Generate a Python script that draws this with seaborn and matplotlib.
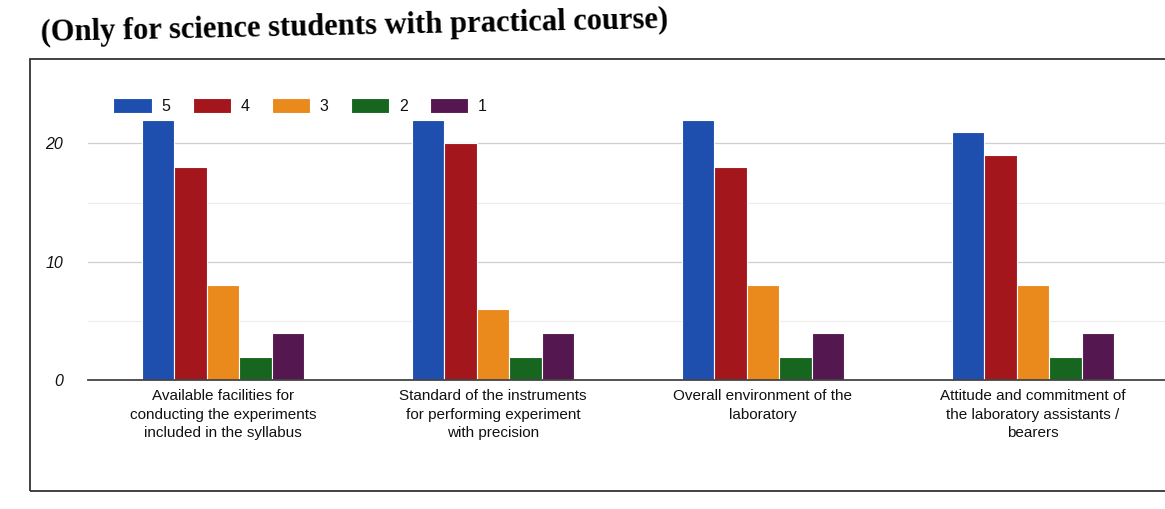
import pandas as pd
import matplotlib.pyplot as plt
import seaborn as sns
from matplotlib.patches import Rectangle

# Survey items (x categories)
categories = [
    'Available facilities for\nconducting the experiments\nincluded in the syllabus',
    'Standard of the instruments\nfor performing experiment\nwith precision',
    'Overall environment of the\nlaboratory',
    'Attitude and commitment of\nthe laboratory assistants /\nbearers',
]

# Rating levels (legend)
ratings = ['5', '4', '3', '2', '1']

# Number of responses per rating, one value per item
counts_5 = [22, 22, 22, 21]
counts_4 = [18, 20, 18, 19]
counts_3 = [8, 6, 8, 8]
counts_2 = [2, 2, 2, 2]
counts_1 = [4, 4, 4, 4]

colors = ['#1f4fae', '#a3161b', '#ea8a1c', '#17661f', '#55174f']

# Build a long table for seaborn
rows = []
for rating, vals in zip(ratings, [counts_5, counts_4, counts_3, counts_2, counts_1]):
    for cat, v in zip(categories, vals):
        rows.append({'item': cat, 'rating': rating, 'count': v})
df = pd.DataFrame(rows)

sns.set_style('white')
plt.rcParams['font.family'] = ['Liberation Sans', 'DejaVu Sans']

fig = plt.figure(figsize=(11.65, 5.09), dpi=100)
ax = fig.add_axes([0.0755, 0.253, 0.927, 0.57])

sns.barplot(data=df, x='item', y='count', hue='rating', order=categories,
            hue_order=ratings, palette=colors, width=0.6, saturation=1,
            edgecolor='white', linewidth=0.8, ax=ax)

ax.set_xlim(-0.5, 3.5)
ax.set_ylim(0, 24.5)
ax.set_yticks([0, 10, 20])
ax.set_yticks([5, 15], minor=True)
ax.grid(axis='y', which='major', color='#cfcfcf', lw=0.9)
ax.grid(axis='y', which='minor', color='#ececec', lw=0.8)
ax.set_axisbelow(True)
ax.set_xlabel('')
ax.set_ylabel('')
for s in ['top', 'right', 'left']:
    ax.spines[s].set_visible(False)
ax.spines['bottom'].set_color('#444444')
ax.spines['bottom'].set_linewidth(1.3)
ax.tick_params(axis='y', length=0, pad=18, labelsize=11.5, labelcolor='#111111')
ax.tick_params(axis='x', length=0, pad=6, labelsize=11)
for t in ax.get_yticklabels():
    t.set_fontstyle('italic')
for t in ax.get_xticklabels():
    t.set_linespacing(1.45)
    t.set_color('#111111')

handles, labels = ax.get_legend_handles_labels()
leg = ax.legend(handles, labels, ncol=5, frameon=False, fontsize=11.5,
                loc='upper left', bbox_to_anchor=(0.085, 0.835),
                bbox_transform=fig.transFigure, handlelength=2.4,
                handleheight=1.0, handletextpad=0.6, columnspacing=1.4)
for t in leg.get_texts():
    t.set_color('#111111')

# Page-like frame and heading from the scanned report
fig.patches.append(Rectangle((0.026, 0.035), 1.2, 0.85, transform=fig.transFigure,
                             fill=False, lw=1.3, edgecolor='#333333'))
fig.text(0.035, 0.92, '(Only for science students with practical course)',
         family='Liberation Serif', fontweight='bold', fontsize=22, color='black',
         rotation=1.2, rotation_mode='anchor', va='baseline', ha='left')

fig.savefig('out.png', dpi=100)
